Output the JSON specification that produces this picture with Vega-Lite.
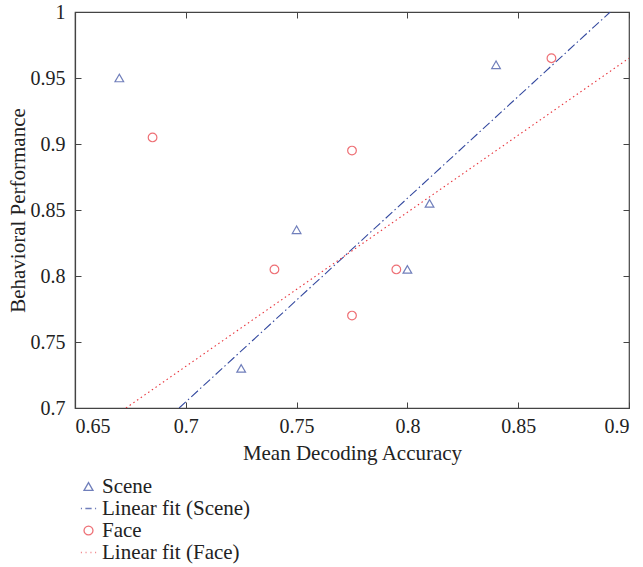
{
  "$schema": "https://vega.github.io/schema/vega-lite/v6.json",
  "width": 554,
  "height": 396,
  "autosize": "none",
  "padding": {"left": 75, "top": 12, "right": 14, "bottom": 159},
  "background": "white",
  "config": {
    "font": "Liberation Serif",
    "view": {"stroke": "#444", "strokeWidth": 1.2},
    "axis": {
      "grid": false,
      "domainColor": "#444",
      "domainWidth": 1.2,
      "tickColor": "#444",
      "labelColor": "#222",
      "titleColor": "#222",
      "labelFont": "Liberation Serif",
      "titleFont": "Liberation Serif",
      "labelFontSize": 20,
      "titleFontSize": 21,
      "titleFontWeight": "normal",
      "tickSize": -6,
      "format": "~g"
    }
  },
  "datasets": {
    "points": [
      {"x": 0.67, "y": 0.95, "series": "Scene"},
      {"x": 0.725, "y": 0.73, "series": "Scene"},
      {"x": 0.75, "y": 0.835, "series": "Scene"},
      {"x": 0.8, "y": 0.805, "series": "Scene"},
      {"x": 0.81, "y": 0.855, "series": "Scene"},
      {"x": 0.84, "y": 0.96, "series": "Scene"},
      {"x": 0.685, "y": 0.905, "series": "Face"},
      {"x": 0.74, "y": 0.805, "series": "Face"},
      {"x": 0.775, "y": 0.895, "series": "Face"},
      {"x": 0.775, "y": 0.77, "series": "Face"},
      {"x": 0.795, "y": 0.805, "series": "Face"},
      {"x": 0.865, "y": 0.965, "series": "Face"}
    ],
    "lines": [
      {"x": 0.697, "y": 0.7, "series": "Linear fit (Scene)"},
      {"x": 0.8915, "y": 1.0, "series": "Linear fit (Scene)"},
      {"x": 0.673, "y": 0.7, "series": "Linear fit (Face)"},
      {"x": 0.9, "y": 0.965, "series": "Linear fit (Face)"}
    ]
  },
  "layer": [
    {
      "data": {"name": "points"},
      "mark": {"type": "point", "filled": false, "strokeWidth": 1.2, "size": 75},
      "encoding": {
        "x": {"field": "x", "type": "quantitative", "scale": {"domain": [0.65, 0.9], "nice": false, "zero": false},
              "axis": {"orient": "bottom", "values": [0.65, 0.7, 0.75, 0.8, 0.85, 0.9], "title": "Mean Decoding Accuracy", "labelPadding": 14, "titlePadding": 6}},
        "y": {"field": "y", "type": "quantitative", "scale": {"domain": [0.7, 1.0], "nice": false, "zero": false},
              "axis": {"orient": "left", "values": [0.7, 0.75, 0.8, 0.85, 0.9, 0.95, 1], "title": "Behavioral Performance", "labelPadding": 16, "titlePadding": 2}},
        "color": {"field": "series", "type": "nominal",
                  "scale": {"domain": ["Scene", "Linear fit (Scene)", "Face", "Linear fit (Face)"], "range": ["#34499f", "#34499f", "#e8343c", "#e8343c"]},
                  "legend": {"orient": "none", "legendX": 3, "legendY": 464, "title": null, "labelFontSize": 21, "labelFont": "Liberation Serif", "labelColor": "#222", "rowPadding": 0, "symbolStrokeWidth": 1.3, "symbolSize": 80, "labelOffset": 3}},
        "shape": {"field": "series", "type": "nominal",
                  "scale": {"domain": ["Scene", "Linear fit (Scene)", "Face", "Linear fit (Face)"], "range": ["triangle-up", "M-1.7,0L-1.45,0M-0.7,0L0.7,0M1.45,0L1.7,0", "circle", "M-1.7,0L-1.5,0M-0.65,0L-0.45,0M0.45,0L0.65,0M1.5,0L1.7,0"]}}
      }
    },
    {
      "data": {"name": "lines"},
      "mark": {"type": "line", "strokeWidth": 1.1, "clip": true},
      "encoding": {
        "x": {"field": "x", "type": "quantitative",
              "axis": {"orient": "top", "values": [0.65, 0.7, 0.75, 0.8, 0.85, 0.9], "labels": false, "title": null, "domain": false}},
        "y": {"field": "y", "type": "quantitative",
              "axis": {"orient": "right", "values": [0.7, 0.75, 0.8, 0.85, 0.9, 0.95, 1], "labels": false, "title": null, "domain": false}},
        "color": {"field": "series", "type": "nominal"},
        "strokeDash": {"field": "series", "type": "nominal",
                       "scale": {"domain": ["Linear fit (Scene)", "Linear fit (Face)"], "range": [[9, 3, 1.5, 3], [1.5, 3]]},
                       "legend": null}
      }
    }
  ],
  "resolve": {"axis": {"x": "independent", "y": "independent"}}
}
